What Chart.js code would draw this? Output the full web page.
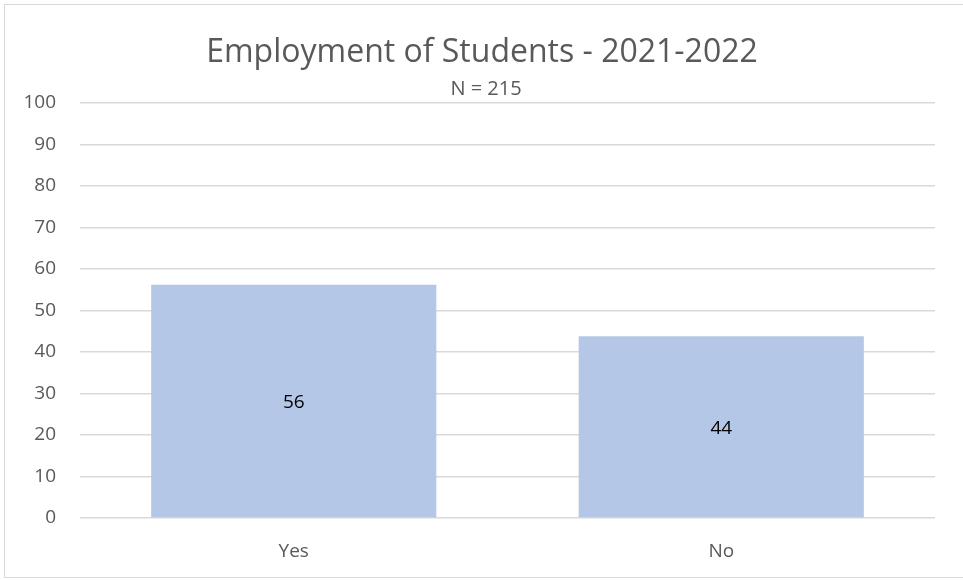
<!DOCTYPE html>
<html>
<head>
<meta charset="utf-8">
<script src="https://cdn.jsdelivr.net/npm/chart.js@4"></script>
<style>
  body { margin: 0; background: #fff; }
  #wrap { position: absolute; left: 0; top: 0; width: 963px; height: 580px; }
  #frame { position: absolute; left: 4px; top: 4px; width: 962px; height: 574px; border: 1px solid #d9d9d9; box-sizing: border-box; pointer-events: none; }
</style>
</head>
<body>
<div id="wrap">
  <canvas id="mycanvas" width="963" height="580"></canvas>
  <div id="frame"></div>
</div>
<script>
// datos
const categorias = ['Yes', 'No'];
const valores = [56.2, 43.8];
const etiquetas = ['56', '44'];
const ticksY = [0, 10, 20, 30, 40, 50, 60, 70, 80, 90, 100];

const titulo = 'Employment of Students - 2021-2022';
const subtitulo = 'N = 215';

const fuente = '"Open Sans", Lato, sans-serif';

// titulos y etiquetas de las barras
const textosPlugin = {
  id: 'textos',
  afterDatasetsDraw(chart) {
    const ctx = chart.ctx;
    ctx.save();
    ctx.textAlign = 'center';
    ctx.textBaseline = 'middle';
    ctx.fillStyle = '#595959';
    ctx.font = '32px ' + fuente;
    ctx.fillText(titulo, 482, 53);
    ctx.font = '20px ' + fuente;
    ctx.fillText(subtitulo, 486, chart.chartArea.top - 14);

    const meta = chart.getDatasetMeta(0);
    ctx.fillStyle = '#000000';
    ctx.font = '19px ' + fuente;
    meta.data.forEach(function (bar, i) {
      ctx.fillText(etiquetas[i], bar.x, (bar.y + bar.base) / 2 + 2);
    });
    ctx.restore();
  }
};

const data = {
  labels: categorias,
  datasets: [
    {
      label: 'Employment',
      data: valores,
      backgroundColor: '#b4c7e7',
      borderWidth: 0,
      categoryPercentage: 1,
      barPercentage: 0.667
    }
  ]
};

const config = {
  type: 'bar',
  data: data,
  plugins: [textosPlugin],
  options: {
    responsive: false,
    animation: false,
    layout: {
      padding: { top: 103, right: 28, bottom: 0, left: 0 }
    },
    plugins: {
      legend: { display: false },
      title: { display: false },
      tooltip: { enabled: false }
    },
    scales: {
      x: {
        grid: { display: false, drawTicks: false },
        border: { display: false },
        ticks: { color: '#595959', font: { family: fuente, size: 19 }, padding: 22 },
        afterFit: function (scale) { scale.height = 62; }
      },
      y: {
        min: 0,
        max: 100,
        afterBuildTicks: function (scale) {
          scale.ticks = ticksY.map(function (v) { return { value: v }; });
        },
        grid: { color: '#d9d9d9', lineWidth: 1.5, drawTicks: false },
        border: { display: false },
        ticks: { color: '#595959', font: { family: fuente, size: 19 }, padding: 24 },
        afterFit: function (scale) { scale.width = 80; }
      }
    }
  }
};

var myChart = new Chart(document.getElementById('mycanvas'), config);
</script>
</body>
</html>
